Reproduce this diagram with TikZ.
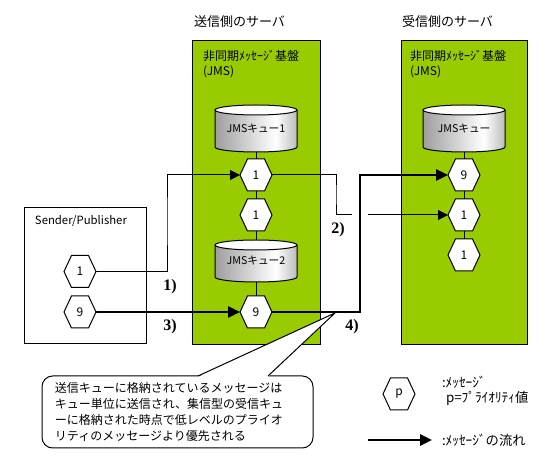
\documentclass[tikz,border=0pt]{standalone}
\usepackage{fontspec}
\setmainfont{Noto Sans CJK JP}
\newfontfamily\labelfont{Liberation Serif}
\usetikzlibrary{arrows.meta}
\definecolor{jmsgreen}{RGB}{153,204,0}
\definecolor{cylL}{RGB}{158,158,158}
\definecolor{cylR}{RGB}{188,188,188}
\pgfdeclarehorizontalshading{cylshade}{100bp}{color(0bp)=(cylL); color(25bp)=(cylL); color(62bp)=(white); color(75bp)=(cylR); color(100bp)=(cylR)}
% hexagon message: name, position, text
\newcommand\hexmsg[3]{%
  \draw[hexline,shift={#2}] (-16,0) -- (-8.5,-16) -- (8.5,-16) -- (16,0) -- (8.5,16) -- (-8.5,16) -- cycle;
  \node[hexnode] (#1) at #2 {#3};}
% cylinder queue: name, position, height(px), text
\newcommand\jmsqueue[4]{%
  \begin{scope}[shift={#2},x=0.75pt,y=0.75pt]
    \pgfmathsetmacro\yt{#3/2-5}
    \shade[shading=cylshade] (-41,\yt) -- (-41,-\yt)
      arc[start angle=180,end angle=360,x radius=41,y radius=5] -- (41,\yt)
      arc[start angle=0,end angle=-180,x radius=41,y radius=5] -- cycle;
    \draw (-41,\yt) -- (-41,-\yt)
      arc[start angle=180,end angle=360,x radius=41,y radius=5] -- (41,\yt);
    \draw[fill=white] (0,\yt) ellipse[x radius=41,y radius=5];
  \end{scope}
  \node[queuenode,minimum height=#3*0.75pt] (#1) at #2 {\raisebox{-2.5pt}{#4}};}
\begin{document}
\begin{tikzpicture}[x=0.75pt,y=-0.75pt,line width=0.75pt,
  every node/.style={inner sep=0pt,outer sep=0pt},
  titletext/.style={anchor=west,font=\fontsize{9.75}{12}\selectfont},
  boxtext/.style={anchor=west,font=\fontsize{9}{11}\selectfont},
  legendtext/.style={anchor=west,font=\fontsize{10}{12}\selectfont},
  server/.style={draw,fill=jmsgreen,line width=0.75pt},
  hexline/.style={draw,fill=white,line width=0.75pt,line join=miter},
  hexnode/.style={minimum width=24pt,minimum height=24pt,font=\fontsize{9}{11}\selectfont},
  queuenode/.style={minimum width=61.5pt,font=\fontsize{8}{10}\selectfont},
  thinflow/.style={line width=0.75pt,-{Triangle[length=7.5pt,width=7.5pt]}},
  thickflow/.style={line width=1.7pt,-{Triangle[length=9pt,width=8.5pt]}},
  steplabel/.style={font=\labelfont\bfseries\fontsize{12}{14}\selectfont},
  callout/.style={draw,fill=white,rounded corners=8pt,minimum width=203.25pt,minimum height=54pt,
    text width=183.75pt,align=left,font=\fontsize{9}{12}\selectfont}
]
\useasboundingbox (0,0) rectangle (554,463);

% titles
\node[titletext] (t1) at (194,22) {送信側のサーバ};
\node[titletext] (t2) at (402,22) {受信側のサーバ};

% servers
\node[server,minimum width=96pt,minimum height=228pt] (sv1) at (256,193) {};
\node[server,minimum width=94.5pt,minimum height=228pt] (sv2) at (464,193) {};
\node[boxtext] (b1) at (203,56) {非同期ﾒｯｾｰｼﾞ基盤};
\node[boxtext] (j1) at (203,72) {(JMS)};
\node[boxtext] (b2) at (410,56) {非同期ﾒｯｾｰｼﾞ基盤};
\node[boxtext] (j2) at (410,72) {(JMS)};

% sender
\node[draw,minimum width=91.5pt,minimum height=102pt] (snd) at (85,276) {};
\node[anchor=west,font=\fontsize{8.5}{10}\selectfont] (sndt) at (35,221) {Sender/Publisher};

% queues
\jmsqueue{cq1}{(256,128.5)}{47}{JMSキュー1}
\jmsqueue{cq2}{(256,261)}{42}{JMSキュー2}
\jmsqueue{cq3}{(464,128.5)}{47}{JMSキュー}

% messages
\hexmsg{h1}{(256,175)}{1}
\hexmsg{h2}{(256,215)}{1}
\hexmsg{h3}{(256,312)}{9}
\hexmsg{r1}{(464,175)}{9}
\hexmsg{r2}{(464,215)}{1}
\hexmsg{r3}{(464,255)}{1}
\hexmsg{s1}{(80,271.5)}{1}
\hexmsg{s9}{(80,312)}{9}

% vertical links
\draw (cq1.south) -- (h1.north);
\draw (h1.south) -- (h2.north);
\draw (h2.south) -- (cq2.north);
\draw (cq2.south) -- (h3.north);
\draw (cq3.south) -- (r1.north);
\draw (r1.south) -- (r2.north);
\draw (r2.south) -- (r3.north);

% flows
\coordinate (c1) at (167,220);
\coordinate (c2) at (336,195);
\coordinate (g1) at (352,215);
\coordinate (g2) at (368,215);
\coordinate (c4) at (360,240);
\draw[thinflow] (s1.east) -| (c1) |- (h1.west);
\draw[thickflow] (s9.east) -- (h3.west);
\draw (h1.east) -| (c2) |- (g1);
\draw[thinflow] (g2) -- (r2.west);
\draw[thickflow] (h3.east) -| (c4) |- (r1.west);

\node[steplabel] (l1) at (170,287) {1)};
\node[steplabel] (l3) at (170,327) {3)};
\node[steplabel] (l2) at (338,230) {2)};
\node[steplabel] (l4) at (352,327) {4)};

% callout
\node[callout] (note) at (177.5,412) {送信キューに格納されているメッセージは\\キュー単位に送信され、集信型の受信キュ\\ーに格納された時点で低レベルのプライオ\\リティのメッセージより優先される};
\coordinate (tip) at (335,313);
\coordinate (tl) at (198,376);
\coordinate (tr) at (268,376);
\fill[white] ([yshift=-0.7pt]tl) -- (tip) -- ([yshift=-0.7pt]tr) -- cycle;
\draw (tl) -- (tip) -- (tr);

% legend
\hexmsg{lp}{(399,394)}{p}
\node[legendtext] (lt1) at (442,382) {:ﾒｯｾｰｼﾞ};
\node[legendtext] (lt2) at (446,398) {p=ﾌﾟﾗｲｵﾘﾃｨ値};
\coordinate (la1) at (368,440);
\coordinate (la2) at (432,440);
\draw[thickflow] (la1) -- (la2);
\node[legendtext] (lt3) at (442,440) {:ﾒｯｾｰｼﾞの流れ};
\end{tikzpicture}
\end{document}
